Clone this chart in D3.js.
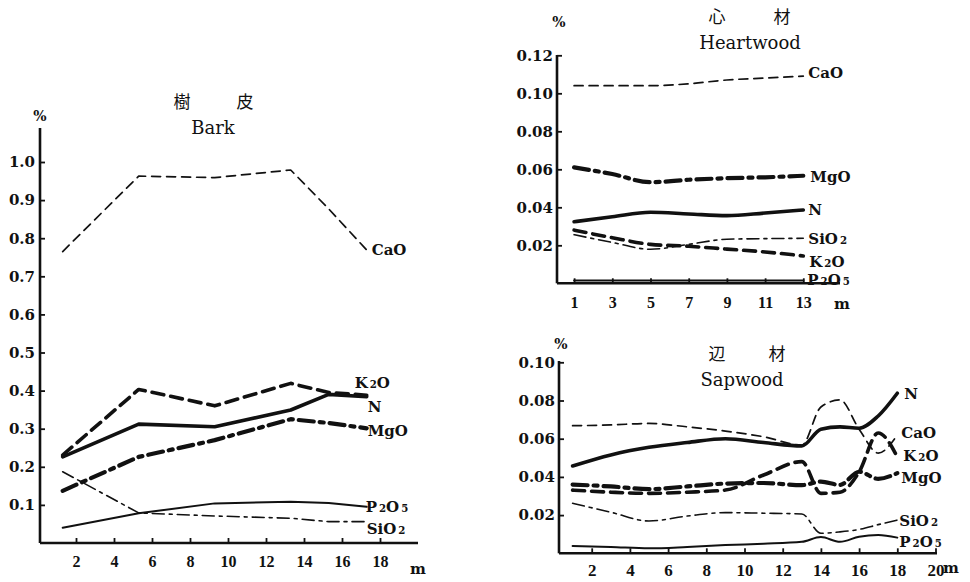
<!DOCTYPE html>
<html>
<head>
<meta charset="utf-8">
<script src="https://cdn.jsdelivr.net/npm/d3@7"></script>
<style>
body { margin: 0; background: #fff; }
svg { display: block; }
.tick text { font-family: "Liberation Serif", serif; font-weight: bold; fill: #111; }
.ytick .tick text { font-family: "DejaVu Serif", serif; }
.lbl { font-family: "DejaVu Serif", serif; font-weight: bold; fill: #111; }
.ttl { font-family: "DejaVu Serif", serif; fill: #111; }
.cjk { font-family: "Noto Sans CJK JP", sans-serif; fill: #111; }
</style>
</head>
<body>
<script>
// bark (樹皮), sampling height in m
var barkHeight = [1.3, 5.3, 9.3, 13.3, 15.3, 17.3];
var barkCaO  = [0.765, 0.963, 0.959, 0.979, 0.877, 0.769];
var barkK2O  = [0.231, 0.403, 0.360, 0.419, 0.395, 0.388];
var barkN    = [0.226, 0.312, 0.305, 0.349, 0.390, 0.384];
var barkMgO  = [0.137, 0.226, 0.270, 0.325, 0.315, 0.301];
var barkP2O5 = [0.040, 0.078, 0.104, 0.108, 0.105, 0.095];
var barkSiO2 = [0.187, 0.079, 0.071, 0.065, 0.056, 0.056];

// heartwood (心材)
var heartHeight = [1, 3, 5, 7, 9, 11, 13];
var heartCaO  = [0.104, 0.104, 0.104, 0.105, 0.107, 0.108, 0.109];
var heartMgO  = [0.061, 0.0575, 0.0532, 0.0545, 0.0553, 0.0558, 0.0566];
var heartN    = [0.0324, 0.035, 0.0374, 0.0365, 0.0356, 0.037, 0.0386];
var heartSiO2 = [0.0256, 0.0215, 0.0179, 0.0205, 0.0232, 0.0235, 0.0237];
var heartK2O  = [0.028, 0.024, 0.0205, 0.0195, 0.018, 0.0165, 0.0144];
var heartP2O5 = [0.0015, 0.0015, 0.0015, 0.0015, 0.0015, 0.0015, 0.0015];

// sapwood (辺材)
var sapHeight = [1, 3, 5, 7, 9, 11, 13, 14, 15, 16, 17, 18];
var sapN    = [0.0457, 0.0515, 0.0555, 0.058, 0.060, 0.058, 0.0562, 0.065, 0.0662, 0.0655, 0.0719, 0.0838];
var sapCaO  = [0.0668, 0.0672, 0.068, 0.0662, 0.064, 0.061, 0.0567, 0.0766, 0.0803, 0.065, 0.0525, 0.062];
var sapK2O  = [0.0331, 0.032, 0.0314, 0.032, 0.0331, 0.041, 0.048, 0.0314, 0.032, 0.0426, 0.063, 0.0505];
var sapMgO  = [0.036, 0.035, 0.0336, 0.035, 0.0365, 0.0368, 0.0357, 0.0375, 0.0358, 0.0427, 0.039, 0.042];
var sapSiO2 = [0.0262, 0.0215, 0.0169, 0.0195, 0.0213, 0.021, 0.0206, 0.0105, 0.0112, 0.0125, 0.015, 0.0174];
var sapP2O5 = [0.0038, 0.0033, 0.0026, 0.0033, 0.0043, 0.005, 0.006, 0.0085, 0.006, 0.0087, 0.0096, 0.0082];

var barkYTicks = [0.1, 0.2, 0.3, 0.4, 0.5, 0.6, 0.7, 0.8, 0.9, 1.0];
var barkXTicks = [2, 4, 6, 8, 10, 12, 14, 16, 18];
var heartYTicks = [0.02, 0.04, 0.06, 0.08, 0.10, 0.12];
var heartXTicks = [1, 3, 5, 7, 9, 11, 13];
var sapYTicks = [0.02, 0.04, 0.06, 0.08, 0.10];
var sapXTicks = [2, 4, 6, 8, 10, 12, 14, 16, 18, 20];

var styles = {
    CaO:  { w: 1.7, dash: '9,6' },
    K2O:  { w: 3.6, dash: '12,7' },
    N:    { w: 3.6, dash: null },
    MgO:  { w: 4.2, dash: '15,6,4,6' },
    SiO2: { w: 1.6, dash: '12,5,3,5' },
    P2O5: { w: 2, dash: null }
};

var svg = d3.select('body').append('svg')
    .attr('width', 970)
    .attr('height', 582);

function chemLabel(g, name, x, y, size) {
    var t = g.append('text').attr('class', 'lbl')
        .attr('x', x).attr('y', y)
        .attr('font-size', size);
    name.split(/(\d)/).forEach(function(part) {
        if (!part) return;
        if (/\d/.test(part)) {
            t.append('tspan').attr('font-size', size * 0.68).attr('dx', 2).text(part);
            t.append('tspan').attr('dx', 2).text('');
        } else {
            t.append('tspan').text(part);
        }
    });
}

function drawPanel(cfg) {
    var g = svg.append('g');
    var x = cfg.x, y = cfg.y;

    // axes
    g.append('line')
        .attr('x1', cfg.axisX).attr('x2', cfg.axisX)
        .attr('y1', y(0)).attr('y2', cfg.yTop)
        .attr('stroke', '#111').attr('stroke-width', 2.6);
    g.append('line')
        .attr('x1', cfg.axisX).attr('x2', cfg.xRight)
        .attr('y1', y(0)).attr('y2', y(0))
        .attr('stroke', '#111').attr('stroke-width', 2.6);

    var ya = g.append('g')
        .attr('class', 'ytick')
        .attr('transform', 'translate(' + cfg.axisX + ',0)')
        .call(d3.axisLeft(y).tickValues(cfg.yTicks).tickFormat(cfg.yFormat)
            .tickSize(-5).tickPadding(cfg.yPad));
    ya.select('.domain').remove();
    ya.selectAll('.tick line').attr('stroke', '#111').attr('stroke-width', 1.8);
    ya.selectAll('.tick text').attr('font-size', cfg.yFont);

    var xa = g.append('g')
        .attr('transform', 'translate(0,' + y(0) + ')')
        .call(d3.axisBottom(x).tickValues(cfg.xTicks).tickFormat(d3.format('d'))
            .tickSize(-5).tickPadding(cfg.xPad));
    xa.select('.domain').remove();
    xa.selectAll('.tick line').attr('stroke', '#111').attr('stroke-width', 1.8);
    xa.selectAll('.tick text').attr('font-size', cfg.xFont);

    g.append('text').attr('class', 'lbl')
        .attr('x', cfg.mPos[0]).attr('y', cfg.mPos[1])
        .attr('font-size', 15).text('m');
    g.append('text').attr('class', 'lbl')
        .attr('x', cfg.pctPos[0]).attr('y', cfg.pctPos[1])
        .attr('text-anchor', 'middle')
        .attr('font-size', 14).text('%');

    // titles, the two characters set wide apart
    cfg.title.forEach(function(ch, i) {
        g.append('text').attr('class', 'cjk')
            .attr('x', cfg.titleCharX[i]).attr('y', cfg.titleY)
            .attr('text-anchor', 'middle').attr('font-size', 17)
            .text(ch);
    });
    g.append('text').attr('class', 'ttl')
        .attr('x', cfg.titleX).attr('y', cfg.titleY + 26)
        .attr('text-anchor', 'middle').attr('font-size', 18)
        .text(cfg.subtitle);

    var line = d3.line()
        .x(function(d) { return x(d[0]); })
        .y(function(d) { return y(d[1]); })
        .curve(cfg.curve);

    cfg.series.forEach(function(s) {
        var pts = cfg.heights.map(function(h, i) { return [h, s.values[i]]; });
        var st = styles[s.name];
        g.append('path')
            .datum(pts)
            .attr('d', line)
            .attr('fill', 'none')
            .attr('stroke', '#111')
            .attr('stroke-width', st.w)
            .attr('stroke-linecap', 'round')
            .attr('stroke-linejoin', 'round')
            .attr('stroke-dasharray', st.dash);
        var last = pts[pts.length - 1];
        chemLabel(g, s.name, x(last[0]) + s.off[0], y(last[1]) + s.off[1], 15);
    });
}

drawPanel({
    x: d3.scaleLinear().domain([0, 20]).range([38, 418]),
    y: d3.scaleLinear().domain([0, 1]).range([543, 162]),
    axisX: 40, yTop: 128, xRight: 418,
    yTicks: barkYTicks, xTicks: barkXTicks,
    yFormat: d3.format('.1f'), yPad: 5, xPad: 13, yFont: 15, xFont: 16,
    mPos: [410, 574], pctPos: [40, 121],
    title: ['樹', '皮'], titleCharX: [182, 245], subtitle: 'Bark', titleX: 213, titleY: 108,
    heights: barkHeight, curve: d3.curveLinear,
    series: [
        { name: 'CaO',  values: barkCaO,  off: [5, 5] },
        { name: 'K2O',  values: barkK2O,  off: [-12, -7] },
        { name: 'N',    values: barkN,    off: [1, 15] },
        { name: 'MgO',  values: barkMgO,  off: [1, 8] },
        { name: 'P2O5', values: barkP2O5, off: [-1, 5] },
        { name: 'SiO2', values: barkSiO2, off: [0, 12] }
    ]
});

drawPanel({
    x: d3.scaleLinear().domain([0, 15]).range([555, 841.5]),
    y: d3.scaleLinear().domain([0, 0.12]).range([283.3, 55.3]),
    axisX: 557, yTop: 55, xRight: 840,
    yTicks: heartYTicks, xTicks: heartXTicks,
    yFormat: d3.format('.2f'), yPad: 4, xPad: 13, yFont: 15, xFont: 16,
    mPos: [834, 309], pctPos: [559, 27],
    title: ['心', '材'], titleCharX: [717, 782], subtitle: 'Heartwood', titleX: 750, titleY: 23,
    heights: heartHeight, curve: d3.curveMonotoneX,
    series: [
        { name: 'CaO',  values: heartCaO,  off: [5, 2] },
        { name: 'MgO',  values: heartMgO,  off: [7, 6] },
        { name: 'N',    values: heartN,    off: [5, 5] },
        { name: 'SiO2', values: heartSiO2, off: [5, 6] },
        { name: 'K2O',  values: heartK2O,  off: [6, 11] },
        { name: 'P2O5', values: heartP2O5, off: [4, 5] }
    ]
});

drawPanel({
    x: d3.scaleLinear().domain([0, 20]).range([553.5, 935.5]),
    y: d3.scaleLinear().domain([0, 0.10]).range([553.3, 362.3]),
    axisX: 559, yTop: 361, xRight: 937,
    yTicks: sapYTicks, xTicks: sapXTicks,
    yFormat: d3.format('.2f'), yPad: 4, xPad: 11, yFont: 15, xFont: 17,
    mPos: [943, 573], pctPos: [561, 349],
    title: ['辺', '材'], titleCharX: [717, 777], subtitle: 'Sapwood', titleX: 742, titleY: 360,
    heights: sapHeight, curve: d3.curveMonotoneX,
    series: [
        { name: 'N',    values: sapN,    off: [7, 6] },
        { name: 'CaO',  values: sapCaO,  off: [4, 3] },
        { name: 'K2O',  values: sapK2O,  off: [6, 4] },
        { name: 'MgO',  values: sapMgO,  off: [4, 10] },
        { name: 'SiO2', values: sapSiO2, off: [2, 6] },
        { name: 'P2O5', values: sapP2O5, off: [2, 9] }
    ]
});
</script>
</body>
</html>
